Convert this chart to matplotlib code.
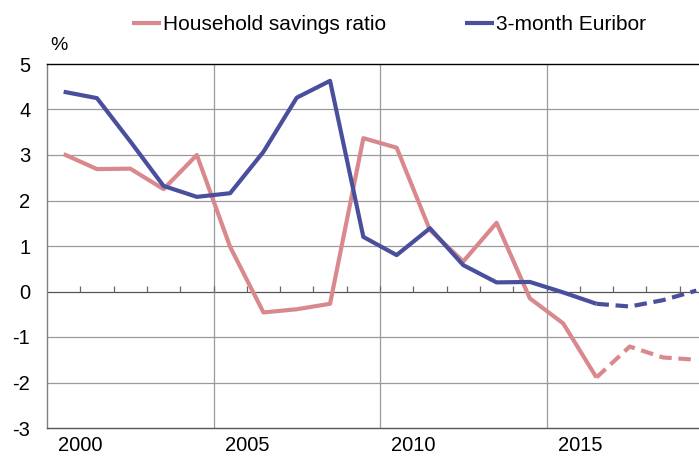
import matplotlib
matplotlib.use('Agg')
import matplotlib.pyplot as plt
import numpy as np

# annual data, 2000-2019 (last three years are forecasts -> dashed)
years = np.arange(2000, 2020)
savings_ratio = [3.02, 2.69, 2.70, 2.25, 3.00, 0.98, -0.46, -0.39, -0.27, 3.37,
                 3.16, 1.35, 0.66, 1.51, -0.15, -0.70, -1.89, -1.21, -1.45, -1.50]
euribor = [4.39, 4.25, 3.30, 2.32, 2.08, 2.16, 3.07, 4.26, 4.63, 1.20,
           0.80, 1.39, 0.58, 0.20, 0.21, -0.02, -0.27, -0.33, -0.19, 0.02]
forecast_start = 2016
tick_years = [2000, 2005, 2010, 2015]

PINK = '#d9898d'
BLUE = '#4a4f9d'

plt.rcParams['font.family'] = ['Liberation Sans', 'DejaVu Sans']
plt.rcParams['axes.unicode_minus'] = False

fig = plt.figure(figsize=(6.99, 4.61), dpi=100)
W, H = 699, 461
ax = fig.add_axes([47 / W, (H - 428) / H, (713 - 47) / W, (428 - 64) / H])

k = list(years).index(forecast_start)
for vals, color, label in [(savings_ratio, PINK, 'Household savings ratio'),
                           (euribor, BLUE, '3-month Euribor')]:
    ax.plot(years[:k + 1], vals[:k + 1], color=color, lw=3, label=label,
            solid_capstyle='butt', zorder=3)
    ax.plot(years[k:], vals[k:], color=color, lw=3, ls=(0, (3, 1.6)),
            dash_capstyle='butt', zorder=3)

ax.set_xlim(years[0] - 0.5, years[-1] + 0.5)
ax.set_ylim(-3, 5)
ax.set_yticks(range(-3, 6))
ax.tick_params(axis='y', length=0, pad=12, labelsize=14.5)

# horizontal grid
for v in range(-2, 5):
    ax.axhline(v, color='#9a9a9a' if v != 0 else '#555555', lw=0.9, zorder=1)

# vertical grid lines every 5 years, category boundaries
for b in [2004.5, 2009.5, 2014.5]:
    ax.axvline(b, color='#9a9a9a', lw=0.9, zorder=1)

# small tick marks on the zero line
bounds = years[:-1] + 0.5
ax.vlines(bounds, 0, 0.11, color='#666666', lw=0.9, zorder=1)

ax.set_xticks([y + 0.5 for y in tick_years])
ax.set_xticklabels([str(y) for y in tick_years])
ax.tick_params(axis='x', length=0, pad=6, labelsize=14.5)

ax.spines['right'].set_visible(False)
ax.spines['top'].set_color('black')
ax.spines['left'].set_color('#7f7f7f')
ax.spines['bottom'].set_color('#555555')
for s in ['top', 'left', 'bottom']:
    ax.spines[s].set_linewidth(1.0)

fig.text(50 / W, 1 - 46 / H, '%', fontsize=14, va='center', ha='left')

handles, labels = ax.get_legend_handles_labels()
fig.legend(handles, labels, loc='center', bbox_to_anchor=(389 / W, 1 - 25 / H),
           ncol=2, frameon=False, fontsize=15, handlelength=1.4,
           handletextpad=0.1, columnspacing=3.8)

fig.savefig('out.png', dpi=100)
